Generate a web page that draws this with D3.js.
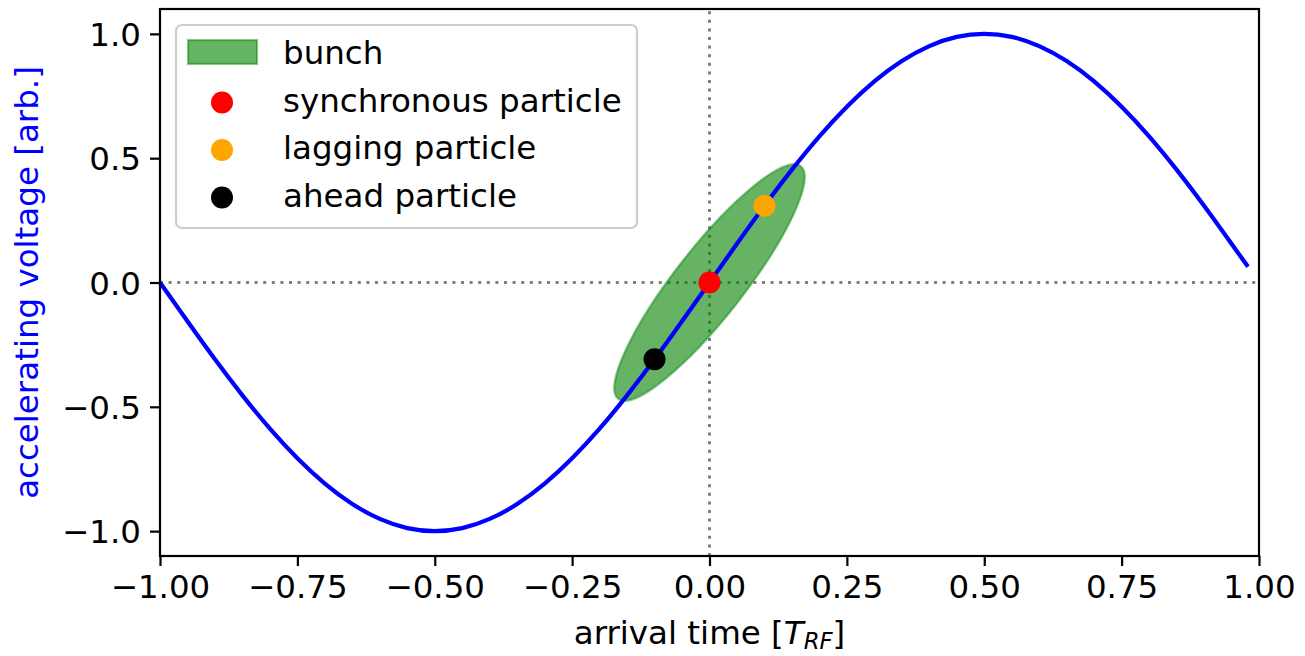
<!DOCTYPE html>
<html>
<head>
<meta charset="utf-8">
<script src="https://cdn.jsdelivr.net/npm/d3@7"></script>
<style>
  html, body { margin: 0; padding: 0; background: #fff; }
  svg { display: block; font-family: "DejaVu Sans", sans-serif; }
</style>
</head>
<body>
<svg id="chart" width="1305" height="656"></svg>
<script>
// ---- data ----
const timeValues = [-1.00,-0.95,-0.90,-0.85,-0.80,-0.75,-0.70,-0.65,-0.60,-0.55,-0.50,-0.45,-0.40,-0.35,-0.30,-0.25,-0.20,-0.15,-0.10,-0.05,
  0.00,0.05,0.10,0.15,0.20,0.25,0.30,0.35,0.40,0.45,0.50,0.55,0.60,0.65,0.70,0.75,0.80,0.85,0.90,0.95,0.98];
const voltageValues = [0.000,-0.156,-0.309,-0.454,-0.588,-0.707,-0.809,-0.891,-0.951,-0.988,-1.000,-0.988,-0.951,-0.891,-0.809,-0.707,-0.588,-0.454,-0.309,-0.156,
  0.000,0.156,0.309,0.454,0.588,0.707,0.809,0.891,0.951,0.988,1.000,0.988,0.951,0.891,0.809,0.707,0.588,0.454,0.309,0.156,0.063];
const particleNames = ["synchronous particle", "lagging particle", "ahead particle"];
const particleTimes = [0.00, 0.10, -0.10];
const particleVoltages = [0.000, 0.309, -0.309];
const particleColors = ["#ff0000", "#ffa500", "#000000"];
// bunch ellipse: centre, tip of the long semi-axis, tip of the short semi-axis (data units)
const bunchCenter = [0.0, 0.0];
const bunchMajorTip = [0.166, 0.468];
const bunchMinorTip = [-0.049, 0.086];
const xTicks = [-1.00, -0.75, -0.50, -0.25, 0.00, 0.25, 0.50, 0.75, 1.00];
const yTicks = [-1.0, -0.5, 0.0, 0.5, 1.0];

// ---- layout ----
const svg = d3.select("#chart");
const L = 160, R = 1259, T = 9, B = 556;
const x = d3.scaleLinear().domain([-1, 1]).range([L, R]);
const y = d3.scaleLinear().domain([-1.1, 1.1]).range([B, T]);
const FS = 32.5;

// reference lines
const gRef = svg.append("g");
gRef.append("line").attr("x1", x(-1)).attr("x2", x(1)).attr("y1", y(0)).attr("y2", y(0))
  .attr("stroke", "#808080").attr("stroke-width", 3).attr("stroke-dasharray", "3,5.6");
gRef.append("line").attr("x1", x(0)).attr("x2", x(0)).attr("y1", y(-1.1)).attr("y2", y(1.1))
  .attr("stroke", "#808080").attr("stroke-width", 3).attr("stroke-dasharray", "3,5.6");

// bunch ellipse
const cx = x(bunchCenter[0]), cy = y(bunchCenter[1]);
const mx = x(bunchMajorTip[0]) - cx, my = y(bunchMajorTip[1]) - cy;
const nx = x(bunchMinorTip[0]) - cx, ny = y(bunchMinorTip[1]) - cy;
const rx = Math.hypot(mx, my), ry = Math.hypot(nx, ny);
const ang = Math.atan2(my, mx) * 180 / Math.PI;
svg.append("ellipse")
  .attr("cx", cx).attr("cy", cy).attr("rx", rx).attr("ry", ry)
  .attr("transform", `rotate(${ang},${cx},${cy})`)
  .attr("fill", "#008000").attr("fill-opacity", 0.6)
  .attr("stroke", "#008000").attr("stroke-opacity", 0.45).attr("stroke-width", 2.2);

// sine line
const lineData = timeValues.map((t, i) => [t, voltageValues[i]]);
svg.append("path").datum(lineData)
  .attr("d", d3.line().x(d => x(d[0])).y(d => y(d[1])).curve(d3.curveNatural))
  .attr("fill", "none").attr("stroke", "#0000ff").attr("stroke-width", 4.2);

// particles
svg.append("g").selectAll("circle").data(particleTimes).join("circle")
  .attr("cx", d => x(d)).attr("cy", (d, i) => y(particleVoltages[i]))
  .attr("r", 11).attr("fill", (d, i) => particleColors[i]);

// axes
const xAxis = d3.axisBottom(x).tickValues(xTicks).tickSize(10).tickPadding(9)
  .tickFormat(d => d3.format(".2f")(d).replace("-", "\u2212"));
const yAxis = d3.axisLeft(y).tickValues(yTicks).tickSize(10).tickPadding(9)
  .tickFormat(d => d3.format(".1f")(d).replace("-", "\u2212"));
const gx = svg.append("g").attr("transform", `translate(0,${B})`).call(xAxis);
const gy = svg.append("g").attr("transform", `translate(${L},0)`).call(yAxis);
[gx, gy].forEach(g => {
  g.select(".domain").remove();
  g.selectAll(".tick line").attr("stroke", "#000").attr("stroke-width", 2.2);
  g.selectAll(".tick text").attr("font-size", FS).attr("fill", "#000")
    .attr("font-family", "DejaVu Sans, sans-serif");
});
gy.selectAll(".tick text").attr("dy", "0.36em");
gx.selectAll(".tick text").attr("dy", "0.72em");

// frame
svg.append("rect").attr("x", L).attr("y", T).attr("width", R - L).attr("height", B - T)
  .attr("fill", "none").attr("stroke", "#000").attr("stroke-width", 2.2);

// axis labels
const xl = svg.append("text").attr("x", (L + R) / 2).attr("y", 644)
  .attr("text-anchor", "middle").attr("font-size", FS).attr("fill", "#000");
xl.append("tspan").text("arrival time [");
xl.append("tspan").attr("font-style", "italic").text("T");
xl.append("tspan").attr("font-style", "italic").attr("font-size", FS * 0.7).attr("dy", 5).text("RF");
xl.append("tspan").attr("dy", -5).text("]");

svg.append("text")
  .attr("transform", `translate(38,${(T + B) / 2}) rotate(-90)`)
  .attr("text-anchor", "middle").attr("font-size", FS).attr("fill", "#0000ff")
  .text("accelerating voltage [arb.]");

// legend
const lg = svg.append("g");
lg.append("rect").attr("x", 176).attr("y", 25).attr("width", 461).attr("height", 203)
  .attr("rx", 6).attr("fill", "#fff").attr("fill-opacity", 0.8)
  .attr("stroke", "#cccccc").attr("stroke-width", 2.2);
const rowBase = [64, 111.5, 159, 206.5];
lg.append("rect").attr("x", 188).attr("y", 40).attr("width", 69).attr("height", 24)
  .attr("fill", "#008000").attr("fill-opacity", 0.6)
  .attr("stroke", "#008000").attr("stroke-opacity", 0.45).attr("stroke-width", 2.2);
lg.append("text").attr("x", 283).attr("y", rowBase[0]).attr("font-size", FS).text("bunch");
particleNames.forEach((name, i) => {
  lg.append("circle").attr("cx", 222).attr("cy", rowBase[i + 1] - 9).attr("r", 11)
    .attr("fill", particleColors[i]);
  lg.append("text").attr("x", 283).attr("y", rowBase[i + 1]).attr("font-size", FS).text(name);
});
</script>
</body>
</html>
